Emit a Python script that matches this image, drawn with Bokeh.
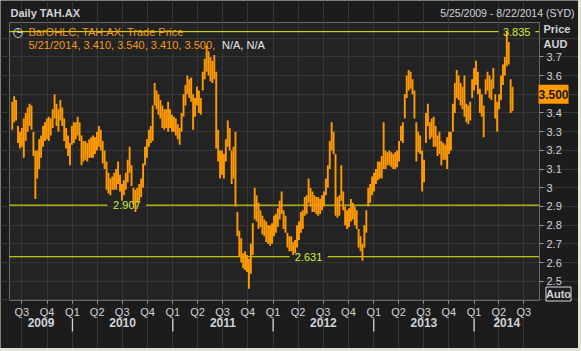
from datetime import datetime
import pandas as pd
from bokeh.plotting import figure
from bokeh.models import Range1d, FixedTicker, LinearAxis, Label, ColumnDataSource, Grid
from bokeh.embed import file_html
from bokeh.resources import INLINE

# ---------------- data ----------------
first_week_mid = "2009-05-27"   # weekly bars, 5/25/2009 .. 5/21/2014
highs = [
    3.46, 3.49, 3.47, 3.33, 3.30, 3.32, 3.37, 3.40, 3.43, 3.45,
    3.44, 3.30, 3.20, 3.20, 3.26, 3.28, 3.33, 3.35, 3.37, 3.38,
    3.37, 3.42, 3.50, 3.45, 3.42, 3.47, 3.43, 3.37, 3.32, 3.28,
    3.24, 3.33, 3.35, 3.35, 3.38, 3.35, 3.28, 3.25, 3.25, 3.24,
    3.26, 3.27, 3.28, 3.27, 3.30, 3.33, 3.31, 3.25, 3.20, 3.14,
    3.08, 3.05, 3.06, 3.08, 3.10, 3.14, 3.07, 3.02, 3.04, 3.08,
    3.15, 3.22, 3.12, 3.00, 2.99, 3.00, 3.02, 3.05, 3.13, 3.22,
    3.26, 3.31, 3.33, 3.44, 3.56, 3.52, 3.50, 3.47, 3.44, 3.42,
    3.42, 3.46, 3.42, 3.39, 3.38, 3.37, 3.34, 3.32, 3.40, 3.50,
    3.55, 3.60, 3.58, 3.59, 3.50, 3.48, 3.54, 3.52, 3.48, 3.62,
    3.69, 3.76, 3.73, 3.70, 3.68, 3.71, 3.62, 3.31, 3.20, 3.20,
    3.18, 3.26, 3.36, 3.32, 3.20, 3.22, 3.30, 2.87, 2.77, 2.73,
    2.65, 2.66, 2.64, 2.62, 2.70, 2.81, 3.00, 2.96, 2.92, 2.88,
    2.85, 2.83, 2.82, 2.80, 2.80, 2.81, 2.85, 2.86, 2.89, 2.93,
    2.98, 2.88, 2.85, 2.76, 2.74, 2.74, 2.71, 2.72, 2.80, 2.82,
    2.87, 2.88, 2.95, 2.96, 3.05, 3.00, 2.98, 2.96, 2.95, 2.95,
    2.94, 2.96, 2.98, 3.05, 3.12, 3.25, 3.35, 3.30, 3.18, 2.95,
    2.96, 3.12, 2.98, 2.90, 2.88, 2.89, 2.94, 2.92, 2.90, 2.88,
    2.78, 2.74, 2.70, 2.80, 2.88, 3.00, 3.02, 3.06, 3.08, 3.10,
    3.14, 3.14, 3.17, 3.35, 3.20, 3.19, 3.20, 3.19, 3.18, 3.19,
    3.20, 3.25, 3.33, 3.35, 3.50, 3.60, 3.63, 3.62, 3.58, 3.52,
    3.35, 3.30, 3.28, 3.20, 3.15, 3.40, 3.45, 3.35, 3.37, 3.38,
    3.33, 3.28, 3.30, 3.25, 3.24, 3.23, 3.27, 3.30, 3.30, 3.45,
    3.56, 3.63, 3.60, 3.56, 3.54, 3.60, 3.45, 3.44, 3.46, 3.58,
    3.64, 3.68, 3.62, 3.53, 3.50, 3.44, 3.58, 3.62, 3.60, 3.58,
    3.64, 3.50, 3.46, 3.50, 3.60, 3.66, 3.70, 3.835, 3.78, 3.58,
    3.54,
]
lows = [
    3.31, 3.35, 3.36, 3.24, 3.21, 3.22, 3.16, 3.25, 3.30, 3.33,
    3.31, 3.17, 2.94, 3.05, 3.10, 3.16, 3.22, 3.25, 3.26, 3.25,
    3.28, 3.32, 3.37, 3.33, 3.30, 3.36, 3.33, 3.25, 3.21, 3.17,
    3.12, 3.23, 3.24, 3.26, 3.28, 3.25, 3.12, 3.14, 3.15, 3.14,
    3.16, 3.16, 3.16, 3.18, 3.20, 3.22, 3.20, 3.13, 3.10, 2.99,
    2.97, 2.96, 2.99, 2.99, 2.99, 3.02, 2.98, 2.93, 2.96, 2.99,
    3.03, 3.08, 3.01, 2.91, 2.87, 2.92, 2.93, 2.95, 3.00, 3.12,
    3.16, 3.22, 3.24, 3.25, 3.44, 3.42, 3.39, 3.37, 3.32, 3.31,
    3.32, 3.30, 3.32, 3.30, 3.30, 3.28, 3.26, 3.23, 3.30, 3.38,
    3.44, 3.50, 3.48, 3.46, 3.31, 3.38, 3.44, 3.40, 3.39, 3.52,
    3.58, 3.62, 3.60, 3.57, 3.56, 3.58, 3.21, 3.14, 3.05, 3.07,
    3.05, 3.14, 3.22, 3.20, 3.02, 3.05, 2.90, 2.74, 2.63, 2.60,
    2.57, 2.56, 2.55, 2.46, 2.54, 2.64, 2.83, 2.82, 2.78, 2.79,
    2.75, 2.74, 2.71, 2.70, 2.69, 2.70, 2.74, 2.76, 2.79, 2.83,
    2.86, 2.78, 2.76, 2.68, 2.66, 2.66, 2.64, 2.65, 2.68, 2.72,
    2.76, 2.78, 2.85, 2.86, 2.92, 2.90, 2.87, 2.87, 2.86, 2.85,
    2.86, 2.88, 2.90, 2.96, 3.00, 3.10, 3.20, 3.18, 2.85, 2.84,
    2.85, 2.93, 2.88, 2.80, 2.78, 2.79, 2.82, 2.83, 2.80, 2.78,
    2.68, 2.66, 2.61, 2.68, 2.76, 2.90, 2.92, 2.96, 2.98, 3.02,
    3.04, 3.05, 3.05, 3.10, 3.10, 3.12, 3.12, 3.11, 3.10, 3.10,
    3.11, 3.14, 3.25, 3.24, 3.37, 3.48, 3.52, 3.53, 3.50, 3.37,
    3.14, 3.19, 3.18, 2.98, 3.03, 3.24, 3.33, 3.26, 3.27, 3.22,
    3.22, 3.17, 3.18, 3.12, 3.15, 3.15, 3.10, 3.18, 3.20, 3.30,
    3.40, 3.48, 3.47, 3.44, 3.42, 3.38, 3.35, 3.34, 3.36, 3.48,
    3.52, 3.55, 3.50, 3.40, 3.38, 3.27, 3.50, 3.52, 3.48, 3.47,
    3.53, 3.37, 3.30, 3.42, 3.47, 3.55, 3.60, 3.65, 3.66, 3.40,
    3.41,
]
last_date = "5/21/2014"
last_open, last_high, last_low, last_close = 3.410, 3.540, 3.410, 3.500

levels = [3.835, 2.907, 2.631]
level_gap_from = ["2014-03-31", "2010-05-08", "2012-03-01"]
level_gap_to = ["2014-08-12", "2010-09-26", "2012-07-17"]
level_label_at = ["2014-04-16", "2010-07-18", "2012-05-09"]
level_label_align = ["left", "center", "center"]

price_ticks = [2.5, 2.6, 2.7, 2.8, 2.9, 3.0, 3.1, 3.2, 3.3, 3.4, 3.5, 3.6, 3.7]
price_labels = ["2.5", "2.6", "2.7", "2.8", "2.9", "3", "3.1", "3.2", "3.3", "3.4", "", "3.6", "3.7"]
grid_prices = [2.4, 2.5, 2.6, 2.7, 2.8, 2.9, 3.0, 3.1, 3.2, 3.3, 3.4, 3.5, 3.6, 3.7, 3.8]
quarter_starts = ["2009-07-01", "2009-10-01",
                  "2010-01-01", "2010-04-01", "2010-07-01", "2010-10-01",
                  "2011-01-01", "2011-04-01", "2011-07-01", "2011-10-01",
                  "2012-01-01", "2012-04-01", "2012-07-01", "2012-10-01",
                  "2013-01-01", "2013-04-01", "2013-07-01", "2013-10-01",
                  "2014-01-01", "2014-04-01", "2014-07-01"]
years = [2009, 2010, 2011, 2012, 2013, 2014]

view_start = datetime(2009, 5, 17)
view_end = datetime(2014, 8, 27)
price_lo, price_hi = 2.397, 3.884

# ---------------- styles / geometry ----------------
FONT = "Liberation Sans"
OUTER = "#1c1c1c"
PLOT_BG = "#232323"
GRID = "#363636"
FRAME = "#6a6a6a"
TXT = "#d0d3d8"
ORANGE = "#ff9a00"
LEG_ORANGE = "#f29a1e"
YEL = "#f4f400"
YEL_TXT = "#d2ee3c"

W, H = 578, 348                     # canvas
IL, IR, IT, IB = 9, 539, 22, 300    # inner plot box in canvas pixels


def ms(d):
    return int(pd.Timestamp(d).value // 10**6)


vs, ve = ms(view_start), ms(view_end)
mpp = (ve - vs) / (IR - IL)
upp = (price_hi - price_lo) / (IB - IT)
x_canvas = Range1d(vs - IL * mpp, ve + (W - IR) * mpp)
y_canvas = Range1d(price_lo - (H - IB) * upp, price_hi + IT * upp)


def y_at(canvas_y):
    return price_hi - (canvas_y - IT) * upp


dates = pd.date_range(first_week_mid, periods=len(highs), freq="7D")
src = ColumnDataSource(dict(x=dates, hi=highs, lo=lows))

p = figure(width=W, height=H, output_backend="svg", toolbar_location=None,
           x_axis_type=None, y_axis_type=None, x_range=x_canvas, y_range=y_canvas,
           min_border=0)
p.border_fill_color = OUTER
p.background_fill_color = OUTER
p.outline_line_color = None

# inner plot area
bg = p.quad(left=[view_start], right=[view_end], bottom=[price_lo], top=[price_hi],
            fill_color=PLOT_BG, line_color=FRAME, line_width=1)
bg.level = "image"

q_ms = [ms(d) for d in quarter_starts]
p.add_layout(Grid(dimension=0, ticker=FixedTicker(ticks=q_ms), bounds=(price_lo, price_hi),
                  grid_line_color=GRID))
p.add_layout(Grid(dimension=1, ticker=FixedTicker(ticks=grid_prices), bounds=(vs, ve),
                  grid_line_color=GRID))

# bottom (quarter) axis
xa = LinearAxis(fixed_location=price_lo, bounds=(vs, ve), ticker=FixedTicker(ticks=q_ms))
xa.major_label_overrides = {m: "Q%d" % ((pd.Timestamp(d).month - 1) // 3 + 1)
                            for m, d in zip(q_ms, quarter_starts)}
xa.axis_line_color = FRAME
xa.major_tick_line_color = "#9a9a9a"
xa.major_tick_out = 3
xa.major_tick_in = 0
xa.minor_tick_line_color = None
xa.major_label_text_color = TXT
xa.major_label_text_font = FONT
xa.major_label_text_font_size = "11px"
xa.major_label_standoff = 2
p.add_layout(xa, "below")

# year axis: labels centred in each visible year
mids, ylab = [], {}
for y in years:
    a = max(ms(datetime(y, 1, 1)), vs)
    b = min(ms(datetime(y + 1, 1, 1)), ve)
    m = (a + b) // 2
    mids.append(m)
    ylab[m] = str(y)
ya = LinearAxis(fixed_location=y_at(317), ticker=FixedTicker(ticks=mids))
ya.major_label_overrides = ylab
ya.axis_line_color = None
ya.major_tick_line_color = None
ya.major_tick_out = 0
ya.major_tick_in = 0
ya.minor_tick_line_color = None
ya.major_label_text_color = TXT
ya.major_label_text_font = FONT
ya.major_label_text_font_size = "12px"
ya.major_label_text_font_style = "bold"
ya.major_label_standoff = 0
p.add_layout(ya, "below")

# year separators (drawn as glyphs at each year boundary)
year_bounds = [ms(datetime(y, 1, 1)) for y in years[1:]]
sep_src = ColumnDataSource(dict(x=year_bounds, y0=[y_at(318)] * len(year_bounds),
                                y1=[y_at(331)] * len(year_bounds)))
sep = p.segment(x0="x", x1="x", y0="y0", y1="y1", source=sep_src,
                line_color="#d8d8d8", line_width=1.3)
sep.level = "overlay"

# right price axis
ra = LinearAxis(fixed_location=ve, bounds=(price_lo, price_hi), ticker=FixedTicker(ticks=price_ticks))
ra.major_label_overrides = dict(zip(price_ticks, price_labels))
ra.axis_line_color = FRAME
ra.major_tick_line_color = "#9a9a9a"
ra.major_tick_out = 4
ra.major_tick_in = 0
ra.minor_tick_line_color = None
ra.major_label_text_color = TXT
ra.major_label_text_font = FONT
ra.major_label_text_font_size = "11px"
ra.major_label_standoff = 3
p.add_layout(ra, "right")

# level lines with gaps for their labels
x0s, x1s, ys = [], [], []
for lv, g0, g1 in zip(levels, level_gap_from, level_gap_to):
    x0s += [view_start, pd.Timestamp(g1)]
    x1s += [pd.Timestamp(g0), view_end]
    ys += [lv, lv]
p.segment(x0=x0s, y0=ys, x1=x1s, y1=ys, line_color=YEL, line_width=1)
for lv, lx, al in zip(levels, level_label_at, level_label_align):
    p.add_layout(Label(x=pd.Timestamp(lx), y=lv, text="%.3f" % lv, text_color=YEL_TXT,
                       text_font=FONT, text_font_size="11px", text_align=al,
                       text_baseline="middle"))

# price bars (high-low)
p.segment(x0="x", y0="lo", x1="x", y1="hi", source=src, line_color=ORANGE, line_width=1.9)


def slabel(x, cy, text, **kw):
    opts = dict(x=x, y=H - cy, x_units="screen", y_units="screen", text=text, text_font=FONT,
                text_font_size="11px", text_color=TXT, text_baseline="middle")
    opts.update(kw)
    p.add_layout(Label(**opts))


slabel(10, 12, "Daily TAH.AX", text_font_style="bold")
slabel(574, 12.5, "5/25/2009 - 8/22/2014 (SYD)", text_align="right", text_font_size="10.5px")
slabel(12, 31, "\u25f7", text_font="DejaVu Sans", text_color="#d8e4ee", text_font_size="12px")
slabel(28, 31, "BarOHLC, TAH.AX, Trade Price", text_color=LEG_ORANGE)
slabel(28, 44, "%s, %.3f, %.3f, %.3f, %.3f," % (last_date, last_open, last_high, last_low, last_close),
       text_color=LEG_ORANGE)
slabel(221.5, 44, " N/A, N/A", text_color="#e6e8ec")
slabel(543, 28, "Price", text_font_style="bold")
slabel(543, 43, "AUD", text_font_style="bold")
slabel(558, 293.5, "Auto", text_font_style="bold", text_align="center",
       border_line_color="#d8d8d8", background_fill_color=OUTER, padding=(0, 1))
p.add_layout(Label(x=538, y=last_close, x_units="screen", y_units="data", text="%.3f" % last_close,
                   text_font=FONT, text_font_size="12px", text_font_style="bold",
                   text_color="#1a1a1a", text_baseline="middle",
                   background_fill_color="#ff9900", padding=(0, 5)))

html = file_html(p, INLINE)
html = html.replace("</head>", "<style>html,body{margin:0;background:#e2e2d8;}</style></head>", 1)
open("out.html", "w").write(html)
